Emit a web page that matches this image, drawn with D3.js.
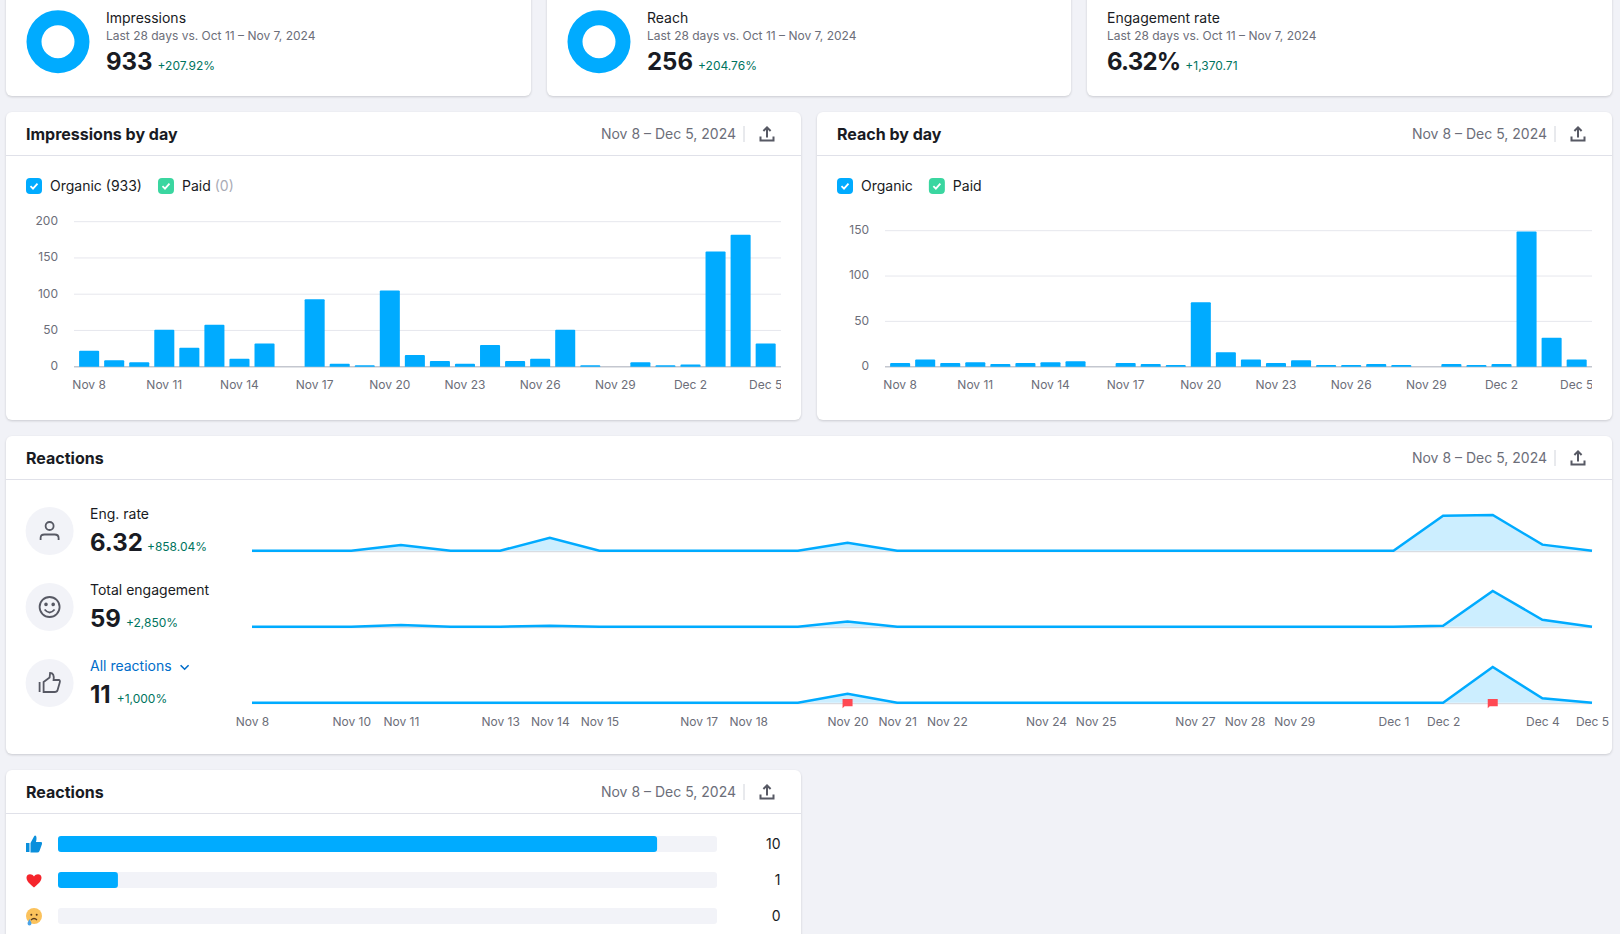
<!DOCTYPE html>
<html>
<head>
<meta charset="utf-8">
<script src="https://cdn.jsdelivr.net/npm/d3@7"></script>
<style>
  html, body { margin: 0; background: #f1f2f7; overflow: hidden; }
  svg { display: block; font-family: Inter, "Noto Sans", sans-serif; }
  .card { fill: #fff; filter: drop-shadow(0 1px 1px rgba(25, 27, 35, .18)); }
  .axis path, .axis line { display: none; }
  .axis text { font-family: Inter, sans-serif; font-size: 12px; fill: #6c6e79; }
</style>
</head>
<body>
<script>
const days = ["Nov 8","Nov 9","Nov 10","Nov 11","Nov 12","Nov 13","Nov 14","Nov 15","Nov 16","Nov 17","Nov 18","Nov 19","Nov 20","Nov 21","Nov 22","Nov 23","Nov 24","Nov 25","Nov 26","Nov 27","Nov 28","Nov 29","Nov 30","Dec 1","Dec 2","Dec 3","Dec 4","Dec 5"];

const impressions = [22,9,6,51,26,58,11,32,0,93,4,2,105,16,8,4,30,8,11,51,2,0,6,2,3,159,182,32];
const reach = [4,8,4,5,3,4,5,6,0,4,3,2,71,16,8,4,7,2,2,3,2,0,3,2,3,149,32,8];

const engRate = [0,0,0,0.8,0,0,1.8,0,0,0,0,0,1.1,0,0,0,0,0,0,0,0,0,0,0,4.9,5,0.85,0];
const totalEngagement = [0,0,0,2,0,0,1,0,0,0,0,0,6,0,0,0,0,0,0,0,0,0,0,0,1,41,8,0];
const allReactions = [0,0,0,0,0,0,0,0,0,0,0,0,2,0,0,0,0,0,0,0,0,0,0,0,0,8,1,0];
const flagDays = ["Nov 20","Dec 3"];

const barTicks = ["Nov 8","Nov 11","Nov 14","Nov 17","Nov 20","Nov 23","Nov 26","Nov 29","Dec 2","Dec 5"];
const lineTicks = ["Nov 8","Nov 10","Nov 11","Nov 13","Nov 14","Nov 15","Nov 17","Nov 18","Nov 20","Nov 21","Nov 22","Nov 24","Nov 25","Nov 27","Nov 28","Nov 29","Dec 1","Dec 2","Dec 4","Dec 5"];

const kpiNames = ["Impressions","Reach","Engagement rate"];
const kpiValues = ["933","256","6.32%"];
const kpiDeltas = ["+207.92%","+204.76%","+1,370.71"];

const reactionNames = ["like","love","sad"];
const reactionCounts = [10,1,0];
const reactionTotal = 11;

const dateRange = "Nov 8 \u2013 Dec 5, 2024";
const BLUE = "#00abff", GREEN = "#3ad6a0", INK = "#191b23", GRAY = "#6c6e79", DELTA = "#00745e";

const svg = d3.select("body").append("svg")
    .attr("width", 1620)
    .attr("height", 934);

const defs = svg.append("defs");

function label(g, x, y, str, size, color, weight, anchor) {
    return g.append("text")
        .attr("x", x)
        .attr("y", y)
        .attr("font-size", size)
        .attr("fill", color)
        .attr("font-weight", weight || 400)
        .attr("text-anchor", anchor || "start")
        .text(str);
}

function card(x, y, w, h) {
    svg.append("rect").attr("class", "card")
        .attr("x", x).attr("y", y).attr("width", w).attr("height", h).attr("rx", 6);
}

function uploadIcon(x, y) {
    const g = svg.append("g").attr("transform", `translate(${x},${y})`)
        .attr("fill", "none").attr("stroke", "#575964").attr("stroke-width", 2);
    g.append("path").attr("d", "M0,3.5V-6M-3.6,-3L0,-6.6L3.6,-3");
    g.append("path").attr("d", "M-6.5,2.5V6.5H6.5V2.5");
}

function header(x, y, w, title) {
    label(svg, x + 20, y + 28, title, 16, INK, 700);
    label(svg, x + w - 65, y + 27, dateRange, 14, GRAY, 400, "end");
    svg.append("line").attr("x1", x + w - 57).attr("x2", x + w - 57)
        .attr("y1", y + 14).attr("y2", y + 30).attr("stroke", "#d1d4db");
    uploadIcon(x + w - 34, y + 22);
    svg.append("line").attr("x1", x).attr("x2", x + w)
        .attr("y1", y + 43.5).attr("y2", y + 43.5).attr("stroke", "#e0e1e9");
}

function checkbox(x, y, color) {
    const g = svg.append("g").attr("transform", `translate(${x},${y})`);
    g.append("rect").attr("width", 16).attr("height", 16).attr("rx", 4).attr("fill", color);
    g.append("path").attr("d", "M4.5,8.2L7,10.7L11.5,5.6")
        .attr("fill", "none").attr("stroke", "#fff").attr("stroke-width", 1.8);
}

// KPI cards
kpiNames.forEach((name, i) => {
    const x = [6, 547, 1087][i], w = [525, 524, 525][i];
    card(x, -20, w, 116);
    const tx = x + (i < 2 ? 100 : 20);
    if (i < 2) {
        const arc = d3.arc().innerRadius(16.5).outerRadius(31.5);
        svg.append("path")
            .attr("transform", `translate(${x + 52},41.7)`)
            .attr("fill", BLUE)
            .attr("d", arc({ startAngle: 0, endAngle: 2 * Math.PI }));
    }
    label(svg, tx, 23, name, 14, INK);
    label(svg, tx, 40, "Last 28 days vs. Oct 11 \u2013 Nov 7, 2024", 12, GRAY);
    const big = label(svg, tx, 70, kpiValues[i], 24, INK, 700)
        .attr("letter-spacing", i === 2 ? -0.8 : 0);
    label(svg, tx + big.node().getComputedTextLength() + 5, 70, kpiDeltas[i], 12, DELTA);
});

// bar chart cards
function barCard(x, title, values, yMax, yTicks, y0, yTop, legendText) {
    card(x, 112, 795, 308);
    header(x, 112, 795, title);

    checkbox(x + 20, 178, BLUE);
    const org = label(svg, x + 44, 191, legendText[0], 14, INK);
    const orgEnd = x + 44 + org.node().getComputedTextLength();
    checkbox(orgEnd + 16, 178, GREEN);
    const paid = label(svg, orgEnd + 40, 191, "Paid", 14, INK);
    if (legendText[1]) {
        label(svg, orgEnd + 40 + paid.node().getComputedTextLength() + 4, 191, legendText[1], 14, "#a9abb6");
    }

    const xs = d3.scaleBand().domain(days)
        .range([x + 70.6, x + 772.2])
        .paddingInner(0.2).paddingOuter(0.1);
    const ys = d3.scaleLinear().domain([0, yMax]).range([y0, yTop]);

    const clipId = "clip" + x;
    defs.append("clipPath").attr("id", clipId).append("rect")
        .attr("x", x + 40).attr("y", 200).attr("width", 735).attr("height", 210);

    const plot = svg.append("g").attr("clip-path", `url(#${clipId})`);

    plot.append("g").selectAll("line").data(yTicks).enter().append("line")
        .attr("x1", x + 68).attr("x2", x + 775)
        .attr("y1", d => ys(d)).attr("y2", d => ys(d))
        .attr("stroke", d => d === 0 ? "#c4c7cf" : "#e6e7ed")
        .attr("stroke-width", d => d === 0 ? 1.5 : 1);

    plot.append("g").selectAll("rect").data(values.map((v, i) => ({ v: v, day: days[i] })))
        .enter().filter(d => d.v > 0).append("path")
        .attr("fill", BLUE)
        .attr("d", d => {
            const l = xs(d.day), r = l + xs.bandwidth(), t = ys(d.v), c = Math.min(1, y0 - t);
            return `M${l},${y0}V${t + c}Q${l},${t} ${l + c},${t}H${r - c}Q${r},${t} ${r},${t + c}V${y0}Z`;
        });

    plot.append("g").attr("class", "axis")
        .attr("transform", `translate(0,${y0 + 7})`)
        .call(d3.axisBottom(xs).tickValues(barTicks).tickSize(0).tickPadding(7))
        .select(".domain").remove();

    svg.append("g").attr("class", "axis")
        .attr("transform", `translate(${x + 52},-1)`)
        .call(d3.axisLeft(ys).tickValues(yTicks).tickSize(0).tickPadding(0))
        .select(".domain").remove();
}

barCard(6, "Impressions by day", impressions, 200, [0, 50, 100, 150, 200], 366.7, 221.7, ["Organic (933)", "(0)"]);
barCard(817, "Reach by day", reach, 150, [0, 50, 100, 150], 366.7, 230.7, ["Organic", ""]);

// Reactions sparklines
card(6, 436, 1606, 318);
header(6, 436, 1606, "Reactions");

const xLine = d3.scalePoint().domain(days).range([252, 1592]);

const iconDraw = [
    g => {
        g.append("circle").attr("cy", -5).attr("r", 4);
        g.append("path").attr("d", "M-9,9V7Q-9,3.5 -5,3.5H5Q9,3.5 9,7V9");
    },
    g => {
        g.append("circle").attr("r", 10);
        g.append("path").attr("d", "M-5,2.5Q0,8.5 5,2.5");
        g.append("circle").attr("cx", -3.6).attr("cy", -2.6).attr("r", 0.9).attr("fill", "#575964");
        g.append("circle").attr("cx", 3.6).attr("cy", -2.6).attr("r", 0.9).attr("fill", "#575964");
    },
    g => {
        g.append("path").attr("d", "M-10,-1V9");
        g.append("path").attr("d", "M-6,9V-1L0,-5.5L0.5,-10Q5,-10 4,-3H9Q11,-3 10,0L8,7Q7.5,9 5,9Z");
    }
];

const rows = [
    { title: "Eng. rate", value: "6.32", delta: "+858.04%", series: engRate, max: 5, y0: 550.7, gap: 4 },
    { title: "Total engagement", value: "59", delta: "+2,850%", series: totalEngagement, max: 41, y0: 626.7, gap: 5 },
    { title: "All reactions", value: "11", delta: "+1,000%", series: allReactions, max: 8, y0: 702.7, gap: 6 }
];

rows.forEach((row, i) => {
    const cy = row.y0 - 19.7;
    svg.append("circle").attr("cx", 49.6).attr("cy", cy).attr("r", 24).attr("fill", "#f2f3f8");
    const ic = svg.append("g").attr("transform", `translate(49.6,${cy})`)
        .attr("fill", "none").attr("stroke", "#575964").attr("stroke-width", 1.8);
    iconDraw[i](ic);

    const link = i === 2;
    const t = label(svg, 90, row.y0 - 31.5, row.title, 14, link ? "#006dca" : INK);
    if (link) {
        const cx = 90 + t.node().getComputedTextLength() + 13;
        svg.append("path")
            .attr("d", `M${cx - 4},${row.y0 - 37.5}L${cx},${row.y0 - 33.5}L${cx + 4},${row.y0 - 37.5}`)
            .attr("fill", "none").attr("stroke", "#006dca").attr("stroke-width", 1.6);
    }
    const big = label(svg, 90, row.y0, row.value, 24, INK, 700);
    label(svg, 90 + big.node().getComputedTextLength() + row.gap, row.y0, row.delta, 12, DELTA);

    const ys = d3.scaleLinear().domain([0, row.max]).range([row.y0, row.y0 - 35.7]);
    const area = d3.area().x((d, k) => xLine(days[k])).y0(row.y0).y1(d => ys(d));
    const line = d3.line().x((d, k) => xLine(days[k])).y(d => ys(d));

    svg.append("path").attr("d", area(row.series)).attr("fill", BLUE).attr("fill-opacity", 0.2);
    svg.append("line").attr("x1", 252).attr("x2", 1592)
        .attr("y1", row.y0 + 1).attr("y2", row.y0 + 1).attr("stroke", "#d1d4db");
    svg.append("path").attr("d", line(row.series))
        .attr("fill", "none").attr("stroke", BLUE).attr("stroke-width", 2.5);

    if (i === 2) {
        svg.append("g").selectAll("path").data(flagDays).enter().append("path")
            .attr("fill", "#ff4953")
            .attr("d", d => {
                const fx = xLine(d);
                return `M${fx - 5},${row.y0 - 3.7}H${fx + 5}V${row.y0 + 3.5}H${fx - 3}L${fx - 5},${row.y0 + 5.5}Z`;
            });
    }
});

svg.append("g").attr("class", "axis")
    .attr("transform", "translate(0,710)")
    .call(d3.axisBottom(xLine).tickValues(lineTicks).tickSize(0).tickPadding(7))
    .select(".domain").remove();

// Reactions breakdown
card(6, 770, 795, 190);
header(6, 770, 795, "Reactions");

const xBar = d3.scaleLinear().domain([0, reactionTotal]).range([58, 717]);
const yBar = d3.scaleBand().domain(reactionNames).range([836, 924]).paddingInner(20 / 36).paddingOuter(0);

svg.append("g").selectAll("rect").data(reactionNames).enter().append("rect")
    .attr("x", xBar(0)).attr("y", d => yBar(d))
    .attr("width", xBar(reactionTotal) - xBar(0)).attr("height", yBar.bandwidth()).attr("rx", 3)
    .attr("fill", "#f2f3f8");

svg.append("g").selectAll("rect").data(reactionCounts).enter().filter(d => d > 0).append("rect")
    .attr("x", xBar(0)).attr("y", (d, i) => yBar(reactionNames[i]))
    .attr("width", d => xBar(d) - xBar(0)).attr("height", yBar.bandwidth()).attr("rx", 3)
    .attr("fill", BLUE);

svg.append("g").selectAll("text").data(reactionCounts).enter().append("text")
    .attr("x", 780.5).attr("y", (d, i) => yBar(reactionNames[i]) + 13)
    .attr("text-anchor", "end").attr("font-size", 14).attr("fill", INK)
    .text(d => d);

// reaction pictograms
const likeIcon = svg.append("g").attr("transform", `translate(34,${yBar("like") + 8})`);
likeIcon.append("path").attr("fill", "#0a8fdc")
    .attr("d", "M-8,-1H-4.5V8H-8ZM-3.5,-1L0,-7.5Q1,-9 2,-8Q3,-6.5 2,-2H7Q8.5,-2 8,0L5.5,7Q5,8.5 3,8.5H-3.5Z");

const loveIcon = svg.append("g").attr("transform", `translate(34,${yBar("love") + 8})`);
loveIcon.append("path").attr("fill", "#f5252c")
    .attr("d", "M0,7.5C-4,4 -7.5,1.5 -7.5,-2.5C-7.5,-6.5 -2,-7 0,-3.5C2,-7 7.5,-6.5 7.5,-2.5C7.5,1.5 4,4 0,7.5Z");

const sadIcon = svg.append("g").attr("transform", `translate(34,${yBar("sad") + 8})`);
sadIcon.append("circle").attr("r", 8).attr("fill", "#fbc25c");
sadIcon.append("circle").attr("cx", -2.7).attr("cy", -1.2).attr("r", 1).attr("fill", "#5b3b1c");
sadIcon.append("circle").attr("cx", 2.7).attr("cy", -1.2).attr("r", 1).attr("fill", "#5b3b1c");
sadIcon.append("path").attr("d", "M-3,4Q0,1 3,4").attr("fill", "none").attr("stroke", "#5b3b1c").attr("stroke-width", 1.3);
sadIcon.append("path").attr("d", "M-4.5,3L-6.5,7Q-6.5,9.5 -4.5,9.5Q-2.5,9.5 -2.5,7Z").attr("fill", "#4aa3e8");
</script>
</body>
</html>
